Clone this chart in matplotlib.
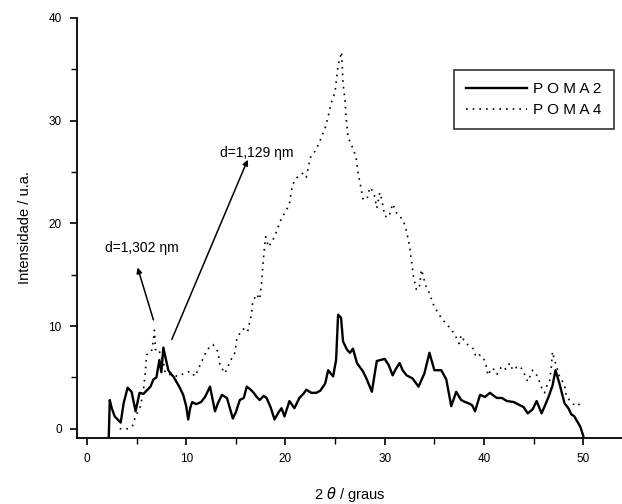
import matplotlib
matplotlib.use("Agg")
import matplotlib.pyplot as plt
from matplotlib.ticker import MultipleLocator

plt.rcParams['font.family'] = ['Liberation Sans', 'DejaVu Sans']

# POMA 2 (solid)
x2 = [2.2, 2.3, 2.5, 2.8, 3.1, 3.4, 3.7, 4.1, 4.5, 4.9, 5.3, 5.7, 6.0, 6.4, 6.7, 7.0, 7.3, 7.5, 7.7, 7.9,
      8.2, 8.5, 8.7, 9.0, 9.3, 9.7, 10.0, 10.2, 10.4, 10.6, 11.0, 11.5, 11.9, 12.4, 12.9, 13.2, 13.6, 14.1,
      14.4, 14.7, 15.0, 15.4, 15.8, 16.1, 16.5, 16.8, 17.1, 17.4, 17.8, 18.1, 18.5, 18.9, 19.3, 19.6, 19.9,
      20.4, 20.9, 21.4, 21.8, 22.1, 22.6, 23.1, 23.5, 24.0, 24.3, 24.8, 25.1, 25.3, 25.6, 25.8, 26.2, 26.5,
      26.8, 27.2, 27.5, 27.8, 28.2, 28.7, 29.2, 29.6, 30.0, 30.4, 30.8, 31.1, 31.5, 31.8, 32.2, 32.8, 33.4,
      34.0, 34.5, 35.0, 35.7, 36.2, 36.7, 37.2, 37.7, 38.1, 38.4, 38.8, 39.1, 39.6, 40.1, 40.6, 41.0, 41.3,
      41.8, 42.3, 43.0, 43.6, 44.0, 44.4, 44.9, 45.3, 45.8, 46.2, 46.5, 46.9, 47.2, 47.6, 48.1, 48.5, 48.8,
      49.1, 49.4, 49.7, 50.0]
y2 = [-0.8, 2.8, 2.0, 1.2, 0.9, 0.6, 2.5, 4.0, 3.6, 1.7, 3.5, 3.4, 3.7, 4.1, 4.8, 5.0, 6.7, 5.5, 7.9, 7.0,
      5.7, 5.3, 5.1, 4.6, 4.1, 3.3, 2.2, 0.9, 2.0, 2.6, 2.4, 2.6, 3.1, 4.1, 1.7, 2.5, 3.3, 3.0,
      2.0, 1.0, 1.6, 2.8, 3.0, 4.1, 3.8, 3.5, 3.1, 2.8, 3.2, 3.0, 2.1, 0.9, 1.6, 2.0, 1.2,
      2.7, 2.0, 3.0, 3.4, 3.8, 3.5, 3.5, 3.7, 4.4, 5.7, 5.1, 6.7, 11.1, 10.8, 8.5, 7.7, 7.4,
      7.8, 6.4, 6.0, 5.6, 4.8, 3.6, 6.6, 6.7, 6.8, 6.2, 5.2, 5.8, 6.4, 5.7, 5.2, 4.9, 4.1,
      5.4, 7.4, 5.7, 5.7, 4.8, 2.2, 3.6, 2.8, 2.6, 2.5, 2.3, 1.7, 3.3, 3.1, 3.5, 3.2, 3.0,
      3.0, 2.7, 2.6, 2.3, 2.1, 1.5, 1.9, 2.7, 1.5, 2.4, 3.1, 4.2, 5.7, 4.4, 2.5, 2.0, 1.4,
      1.2, 0.7, 0.2, -0.7]

# POMA 4 (dotted)
x4 = [3.3, 3.7, 4.2, 4.6, 4.9, 5.4, 5.7, 5.9, 6.0, 6.5, 6.7, 6.8, 6.9, 7.2, 7.7, 7.9, 8.7, 9.2, 9.8, 10.4,
      10.9, 11.4, 12.1, 12.7, 13.2, 13.4, 13.9, 14.4, 14.9, 15.1, 15.5, 15.9, 16.2, 16.6, 16.7, 17.1, 17.4,
      17.6, 17.8, 18.0, 18.3, 18.9, 19.2, 19.6, 20.1, 20.4, 20.6, 20.9, 21.4, 21.8, 22.1, 22.5, 23.1, 23.5,
      24.0, 24.3, 24.6, 25.0, 25.3, 25.65, 25.8, 26.0, 26.1, 26.3, 26.7, 27.1, 27.3, 27.5, 27.8, 28.2, 28.5,
      28.9, 29.2, 29.5, 29.7, 30.0, 30.4, 30.8, 31.2, 31.6, 31.9, 32.2, 32.5, 32.7, 32.9, 33.2, 33.5, 33.7,
      34.1, 34.5, 34.9, 35.4, 36.1, 36.6, 37.1, 37.5, 37.7, 38.1, 38.6, 38.9, 39.2, 39.5, 39.9, 40.2, 40.4,
      40.7, 40.9, 41.3, 41.8, 42.2, 42.6, 42.9, 43.3, 43.6, 43.9, 44.4, 44.9, 45.4, 45.8, 46.1, 46.4, 46.6,
      46.8, 46.9, 47.1, 47.4, 47.6, 48.1, 48.3, 48.7, 49.1, 49.4, 49.7]
y4 = [0.0, 0.0, 0.0, 0.3, 1.2, 2.2, 3.8, 5.7, 7.2, 7.5, 8.7, 9.6, 7.7, 7.8, 6.5, 5.4, 5.2, 5.1, 5.4, 5.6,
      5.1, 6.2, 7.7, 8.2, 7.5, 6.2, 5.4, 6.5, 7.4, 8.7, 9.5, 9.8, 9.5, 11.3, 12.4, 13.1, 12.6,
      14.3, 16.8, 18.7, 17.7, 18.7, 19.5, 20.5, 21.3, 21.9, 23.2, 24.2, 24.7, 24.9, 24.5, 26.4, 27.2, 28.1,
      29.3, 30.4, 31.7, 32.8, 35.4, 36.7, 33.6, 32.0, 30.4, 28.4, 27.5, 26.5, 25.0, 24.0, 22.4, 22.3, 23.5,
      23.0, 21.5, 23.0, 22.3, 20.7, 20.6, 21.9, 21.0, 20.6, 20.2, 19.2, 17.8, 16.3, 14.8, 13.5, 13.9, 15.5,
      14.0, 13.2, 12.1, 11.2, 10.3, 9.8, 9.1, 8.3, 9.1, 8.4, 8.0, 7.8, 7.0, 7.2, 7.0, 6.2, 5.2,
      5.8, 5.9, 5.3, 6.1, 5.8, 6.4, 5.7, 6.0, 6.1, 5.7, 4.6, 5.7, 5.1, 4.0, 3.5, 4.4, 4.6,
      6.2, 7.5, 6.7, 5.8, 5.1, 4.3, 3.1, 2.7, 2.3, 2.2, 2.5]

labels = ['P O M A 2', 'P O M A 4']
ann_texts = ['d=1,302 ηm', 'd=1,129 ηm']
ann_text_xy = [(5.5, 17.6), (17.1, 26.9)]
ann_tail_xy = [(6.7, 10.6), (8.55, 8.7)]
ann_head_xy = [(5.1, 15.7), (16.2, 26.2)]

fig = plt.figure(figsize=(6.22, 5.04), dpi=100)
ax = fig.add_axes([77/622, 66/504, 545/622, 420/504])

ax.plot(x2, y2, color='black', lw=1.7, label=labels[0])
ax.plot(x4, y4, color='black', lw=1.2, linestyle=(0, (1, 3)), label=labels[1])

ax.set_xlim(-1, 53.9)
ax.set_ylim(-0.9, 40)
ax.spines['top'].set_visible(False)
ax.spines['right'].set_visible(False)
for s in ['left', 'bottom']:
    ax.spines[s].set_linewidth(1.3)
ax.xaxis.set_major_locator(MultipleLocator(10))
ax.xaxis.set_minor_locator(MultipleLocator(5))
ax.yaxis.set_major_locator(MultipleLocator(10))
ax.yaxis.set_minor_locator(MultipleLocator(5))
ax.tick_params(which='major', direction='out', length=5, width=1.2, labelsize=8.5, pad=6)
ax.tick_params(which='minor', direction='out', length=4, width=1.0)

ax.set_ylabel('Intensidade / u.a.', fontsize=10.5, labelpad=12)
ax.set_xlabel('2 $\\theta$ / graus', fontsize=10.5, labelpad=14)

for t, txy, tail, head in zip(ann_texts, ann_text_xy, ann_tail_xy, ann_head_xy):
    ax.text(txy[0], txy[1], t, fontsize=10, ha='center', va='center')
    ax.annotate('', xy=head, xytext=tail,
                arrowprops=dict(arrowstyle='-|>', color='black', lw=1.1,
                                mutation_scale=8, shrinkA=0, shrinkB=0))

leg = ax.legend(loc='upper right', bbox_to_anchor=(0.985, 0.876), fontsize=11,
                frameon=True, fancybox=False, handlelength=4.0, borderpad=0.8,
                labelspacing=0.45, handletextpad=0.4, borderaxespad=0)
leg.get_frame().set_edgecolor('black')
leg.get_frame().set_linewidth(1.2)

fig.savefig('out.png', dpi=100)
